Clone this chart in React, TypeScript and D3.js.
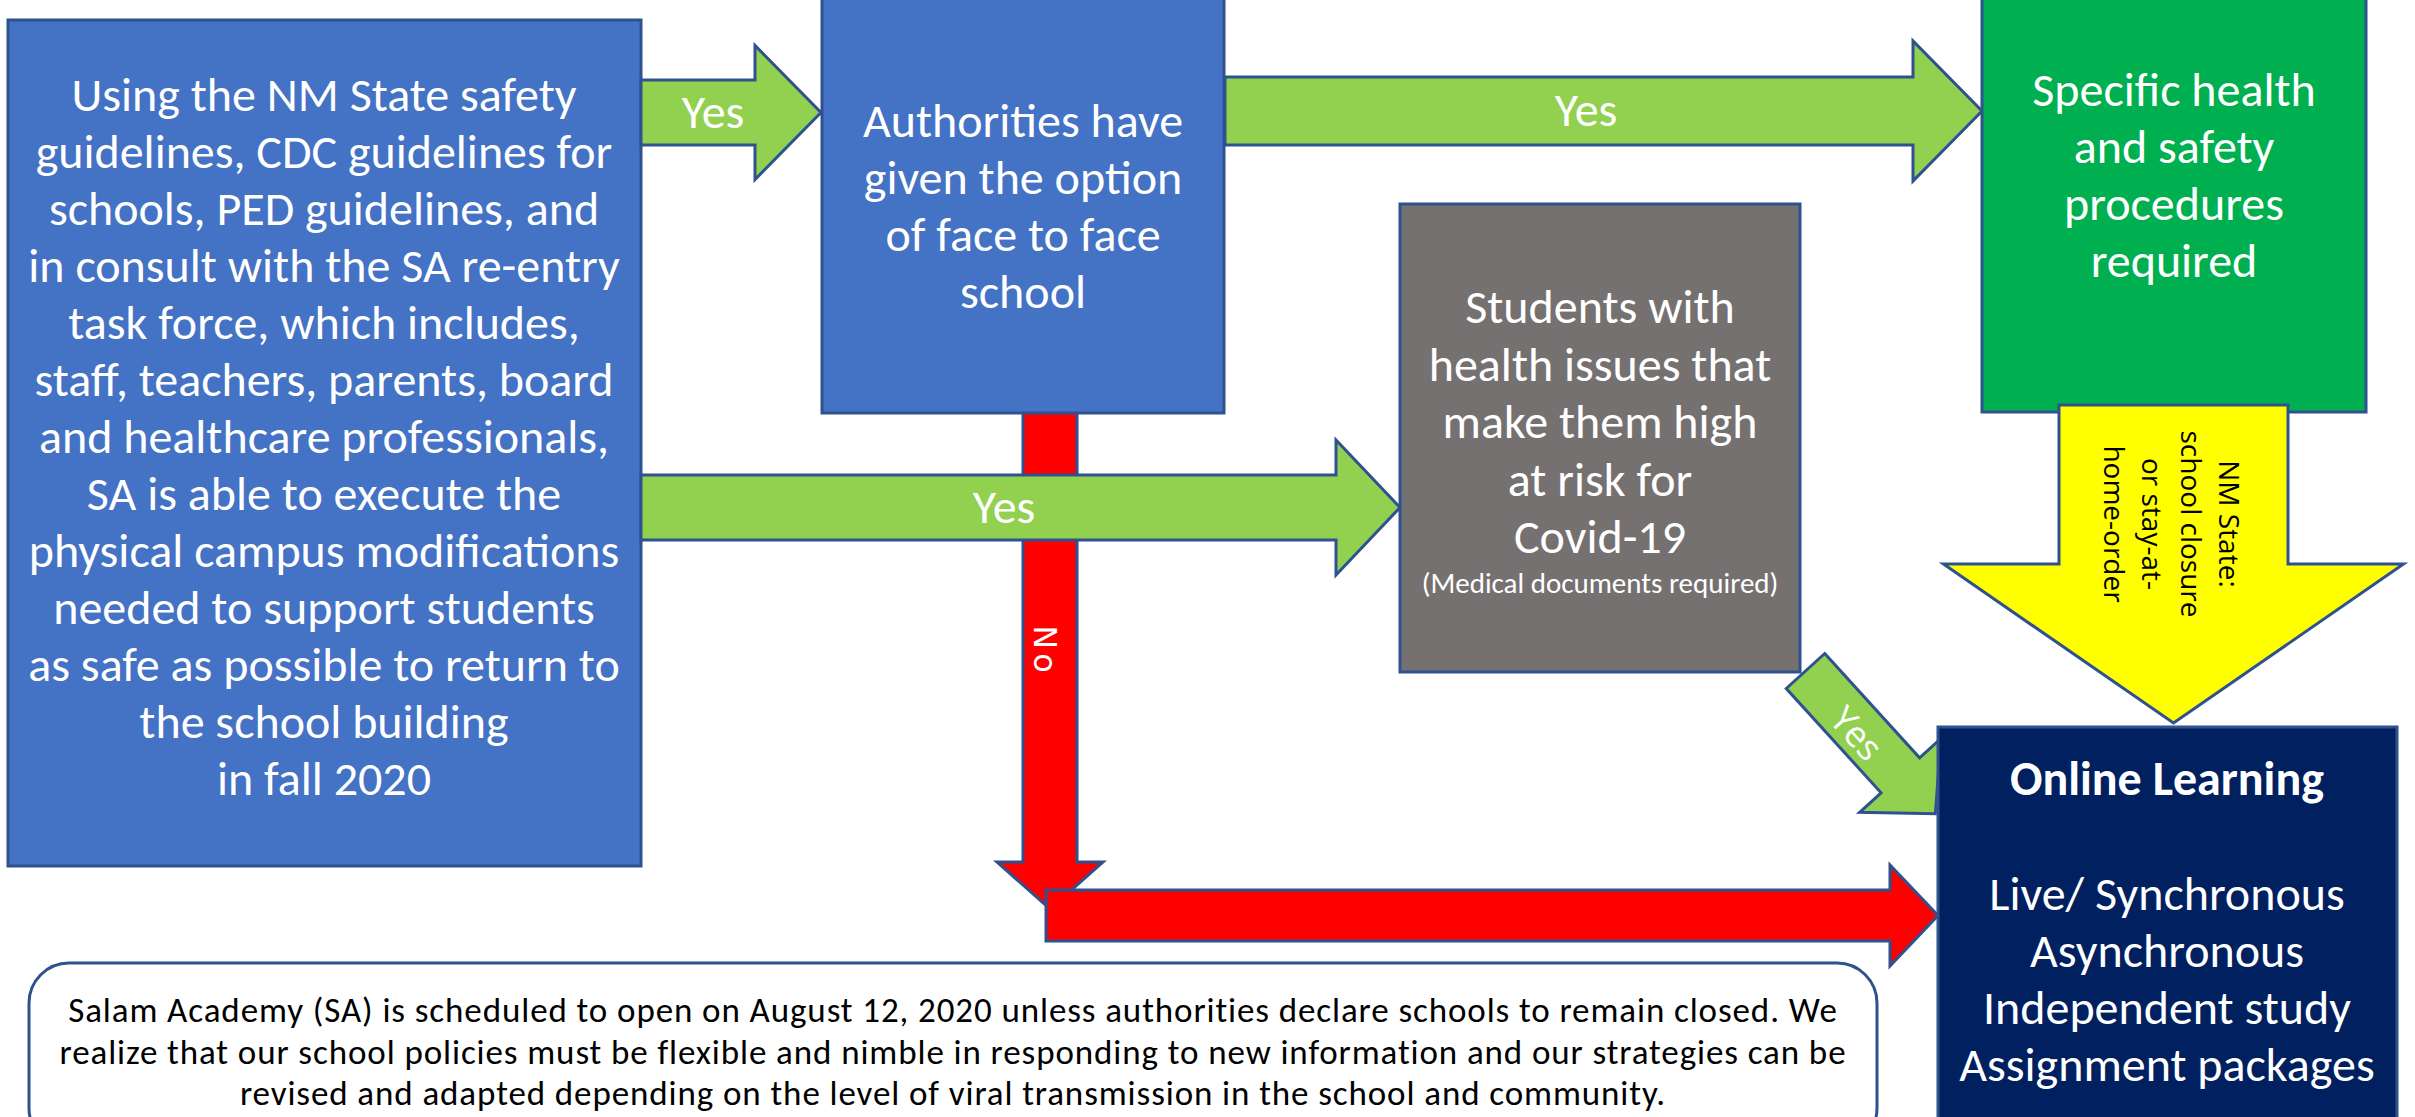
import * as d3 from 'd3';

// text content of the flow chart
const startLines = [
  'Using the NM State safety',
  'guidelines, CDC guidelines for',
  'schools, PED guidelines, and',
  'in consult with the SA re-entry',
  'task force, which includes,',
  'staff, teachers, parents, board',
  'and healthcare professionals,',
  'SA is able to execute the',
  'physical campus modifications',
  'needed to support students',
  'as safe as possible to return to',
  'the school building',
  'in fall 2020',
];
const authorityLines = ['Authorities have', 'given the option', 'of face to face', 'school'];
const procedureLines = ['Specific health', 'and safety', 'procedures', 'required'];
const riskLines = ['Students with', 'health issues that', 'make them high', 'at risk for', 'Covid-19'];
const riskNote = '(Medical documents required)';
const closureLines = ['NM State:', 'school closure', 'or stay-at-', 'home-order'];
const onlineTitle = 'Online Learning';
const onlineModes = ['Live/ Synchronous', 'Asynchronous', 'Independent study', 'Assignment packages'];
const noteLines = [
  'Salam Academy (SA) is scheduled to open on August 12, 2020 unless authorities declare schools to remain closed. We',
  'realize that our school policies must be flexible and nimble in responding to new information and our strategies can be',
  'revised and adapted depending on the level of viral transmission in the school and community.',
];
const answers = ['Yes', 'No'];

const W = 2415;
const H = 1117;
const FONT = 'Calibri, Carlito, Lato, sans-serif';
const OUTLINE = '#2F528F';
const BIG = 48;

type Pt = [number, number];

// block arrow from (x0,y0) tail centre to (x1,y1) tip
function blockArrow(x0: number, y0: number, x1: number, y1: number, shaft: number, head: number, headLen: number) {
  const len = Math.hypot(x1 - x0, y1 - y0);
  const ux = (x1 - x0) / len;
  const uy = (y1 - y0) / len;
  const b = len - headLen;
  const local: Pt[] = [
    [0, -shaft / 2], [b, -shaft / 2], [b, -head / 2], [len, 0],
    [b, head / 2], [b, shaft / 2], [0, shaft / 2],
  ];
  const pts: Pt[] = local.map(([a, c]) => [x0 + a * ux - c * uy, y0 + a * uy + c * ux]);
  return d3.line()(pts) + 'Z';
}

function Lines({ lines, x, y0, step, size, fill = '#fff', weight = 400, family = FONT, spacing = 0 }: any) {
  return (
    <text x={x} textAnchor="middle" fill={fill} fontSize={size} fontWeight={weight} fontFamily={family}
      letterSpacing={spacing}>
      {lines.map((l: string, i: number) => (
        <tspan key={i} x={x} y={y0 + i * step}>{l}</tspan>
      ))}
    </text>
  );
}

export default function App() {
  const diagAngle = Math.atan2(104.5, 95);
  const diagLen = 193;
  const diagTail: Pt = [1805.5, 671];
  const diagTip: Pt = [diagTail[0] + diagLen * Math.cos(diagAngle), diagTail[1] + diagLen * Math.sin(diagAngle)];
  const diagDeg = (diagAngle * 180) / Math.PI;

  return (
    <svg width={W} height={H} style={{ position: 'absolute', left: 0, top: 0, background: '#fff' }}>
      {/* red "No" path */}
      <path d={blockArrow(1050, 400, 1050, 909, 54, 106, 47)} fill="#FF0000" stroke={OUTLINE} strokeWidth={3} />
      <path d={blockArrow(1046, 915.5, 1938, 915.5, 51, 101, 48)} fill="#FF0000" stroke={OUTLINE} strokeWidth={3} />
      <text transform="translate(1034,651) rotate(90)" textAnchor="middle" fill="#fff" fontSize={32}
        letterSpacing={4} fontFamily="'DejaVu Sans', Verdana, sans-serif">{answers[1]}</text>

      {/* starting box */}
      <rect x={8} y={20} width={633} height={846} fill="#4472C4" stroke={OUTLINE} strokeWidth={3} />
      <Lines lines={startLines} x={324} y0={111} step={57} size={BIG} />

      {/* authorities box */}
      <rect x={822} y={-5} width={402} height={418} fill="#4472C4" stroke={OUTLINE} strokeWidth={3} />
      <Lines lines={authorityLines} x={1023} y0={137} step={57} size={BIG} />

      {/* yes arrows */}
      <path d={blockArrow(641, 112.5, 821, 112.5, 65, 134, 66)} fill="#92D050" stroke={OUTLINE} strokeWidth={3} />
      <Lines lines={[answers[0]]} x={713} y0={128} step={0} size={BIG} />
      <path d={blockArrow(1225, 111, 1982, 111, 68, 140, 69)} fill="#92D050" stroke={OUTLINE} strokeWidth={3} />
      <Lines lines={[answers[0]]} x={1586} y0={126} step={0} size={BIG} />
      <path d={blockArrow(641, 507.5, 1400, 507.5, 65, 135, 64)} fill="#92D050" stroke={OUTLINE} strokeWidth={3} />
      <Lines lines={[answers[0]]} x={1004} y0={523} step={0} size={BIG} />

      {/* high risk box */}
      <rect x={1400} y={204} width={400} height={468} fill="#767171" stroke={OUTLINE} strokeWidth={3} />
      <Lines lines={riskLines} x={1600} y0={323} step={57.5} size={BIG} />
      <Lines lines={[riskNote]} x={1600} y0={593} step={0} size={29} />

      {/* procedures box */}
      <rect x={1982} y={-60} width={384} height={472} fill="#00B050" stroke={OUTLINE} strokeWidth={3} />
      <Lines lines={procedureLines} x={2174} y0={106} step={57} size={BIG} />

      {/* state closure arrow */}
      <path d={blockArrow(2173.5, 405, 2173.5, 723, 229, 460, 159)} fill="#FFFF00" stroke={OUTLINE} strokeWidth={3} />
      <g fontFamily="'Open Sans', 'Noto Sans', sans-serif" fontSize={28} fill="#000">
        {closureLines.map((l, i) => (
          <text key={i} transform={`translate(${2219 - i * 38.5},524) rotate(90)`} textAnchor="middle">{l}</text>
        ))}
      </g>

      {/* diagonal yes arrow */}
      <path d={blockArrow(diagTail[0], diagTail[1], diagTip[0], diagTip[1], 52, 110, 52)} fill="#92D050" stroke={OUTLINE} strokeWidth={3} />
      <text transform={`translate(1847,742) rotate(${diagDeg})`} textAnchor="middle" fill="#fff" fontSize={36}
        fontFamily="'Open Sans', 'Noto Sans', sans-serif">{answers[0]}</text>

      {/* online learning box */}
      <rect x={1938} y={727} width={459} height={420} fill="#002060" stroke={OUTLINE} strokeWidth={3} />
      <Lines lines={[onlineTitle]} x={2167} y0={795} step={0} size={BIG} weight={700} />
      <Lines lines={onlineModes} x={2167} y0={910} step={57} size={BIG} />

      {/* note */}
      <rect x={29} y={963} width={1848} height={185} rx={40} fill="#fff" stroke={OUTLINE} strokeWidth={3} />
      <Lines lines={noteLines} x={953} y0={1022} step={41.5} size={35} spacing={0.9} fill="#000" />
    </svg>
  );
}
